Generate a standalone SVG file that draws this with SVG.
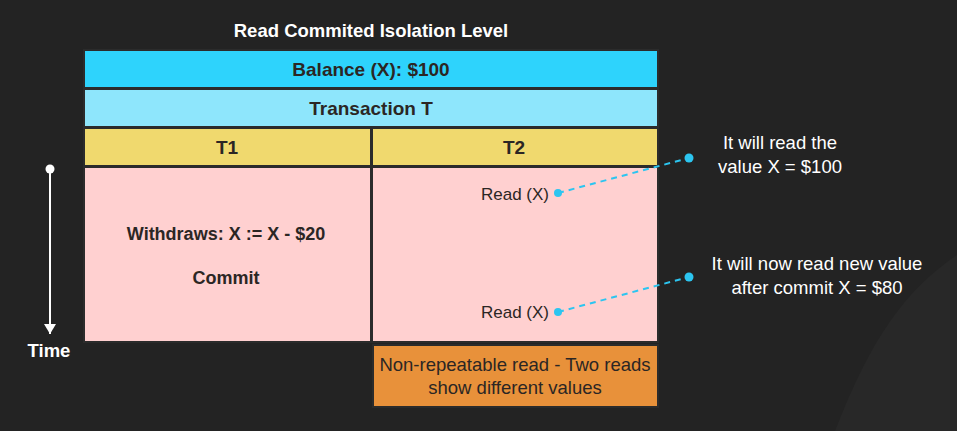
<svg xmlns="http://www.w3.org/2000/svg" width="957" height="431" viewBox="0 0 957 431">
  <style>
    text { font-family: "Liberation Sans", Arial, sans-serif; }
    .dark { fill: #2b2624; text-anchor: middle; }
    .b { font-weight: bold; }
    .white { fill: #ffffff; text-anchor: middle; }
    .box { stroke: #2b2b2b; stroke-width: 2; }
    .dash { stroke: #2cc5f0; stroke-width: 2; stroke-dasharray: 6 5; fill: none; }
    .dot { fill: #2cc5f0; }
  </style>
  <defs>
    <marker id="arrow" markerWidth="12" markerHeight="12" refX="10" refY="6" orient="auto" markerUnits="userSpaceOnUse">
      <path d="M0,0 L10,6 L0,12 Z" fill="#ffffff"/>
    </marker>
  </defs>
  <rect width="957" height="431" fill="#232323"/>
  <path d="M835,431 C870,340 905,290 957,255 L957,431 Z" fill="#282828"/>

  <g id="title">
    <text x="371" y="37" class="white b" font-size="18.5">Read Commited Isolation Level</text>
  </g>
  <g id="balance">
    <rect x="84" y="50" width="574" height="38" fill="#2ed3fc" class="box"/>
    <text x="371" y="76" class="dark b" font-size="19">Balance (X): $100</text>
  </g>
  <g id="transaction">
    <rect x="84" y="89" width="574" height="38" fill="#8ee6fc" class="box"/>
    <text x="371" y="115" class="dark b" font-size="19">Transaction T</text>
  </g>
  <g id="t1-header">
    <rect x="84" y="128" width="287" height="38" fill="#f0d96e" class="box"/>
    <text x="227" y="154" class="dark b" font-size="19">T1</text>
  </g>
  <g id="t2-header">
    <rect x="372" y="128" width="286" height="38" fill="#f0d96e" class="box"/>
    <text x="514" y="154" class="dark b" font-size="19">T2</text>
  </g>
  <g id="t1-body">
    <rect x="84" y="167" width="287" height="175" fill="#ffd0d0" class="box"/>
    <text x="226" y="240" class="dark b" font-size="18">Withdraws: X := X - $20</text>
    <text x="226" y="284" class="dark b" font-size="18">Commit</text>
  </g>
  <g id="t2-body">
    <rect x="372" y="167" width="286" height="175" fill="#ffd0d0" class="box"/>
    <text x="549" y="200" class="dark" font-size="17" style="text-anchor:end">Read (X)</text>
    <text x="549" y="318" class="dark" font-size="17" style="text-anchor:end">Read (X)</text>
  </g>
  <g id="note-box">
    <rect x="373" y="345" width="285" height="62" fill="#e8913a" class="box" stroke-width="1"/>
    <text x="515" y="371" class="dark" font-size="18.5">Non-repeatable read - Two reads</text>
    <text x="515" y="394" class="dark" font-size="18.5">show different values</text>
  </g>
  <g id="time">
    <circle cx="50" cy="169" r="4.5" fill="#ffffff"/>
    <line x1="50" y1="169" x2="50" y2="334" stroke="#ffffff" stroke-width="2" marker-end="url(#arrow)"/>
    <text x="49" y="357" class="white b" font-size="18.5">Time</text>
  </g>
  <g id="label1">
    <text x="780" y="149" class="white" font-size="18.5">It will read the</text>
    <text x="780" y="173" class="white" font-size="18.5">value X = $100</text>
  </g>
  <g id="label2">
    <text x="817" y="270" class="white" font-size="18.5">It will now read new value</text>
    <text x="817" y="294" class="white" font-size="18.5">after commit X = $80</text>
  </g>
  <g id="connectors">
    <line x1="558" y1="193" x2="689" y2="158" class="dash"/>
    <circle cx="558" cy="193" r="4" class="dot"/>
    <circle cx="689" cy="158" r="4.5" class="dot"/>
    <line x1="558" y1="312" x2="689" y2="277" class="dash"/>
    <circle cx="558" cy="312" r="4" class="dot"/>
    <circle cx="689" cy="277" r="4.5" class="dot"/>
  </g>
</svg>
